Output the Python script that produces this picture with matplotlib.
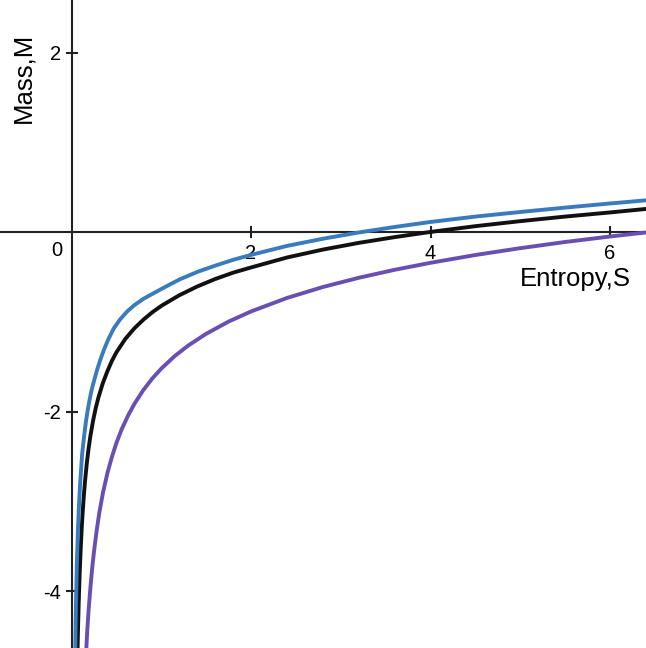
import matplotlib
matplotlib.use("Agg")
import matplotlib.pyplot as plt

plt.rcParams['font.family'] = ['Liberation Sans', 'DejaVu Sans']

# curves (entropy S, mass M)
blue_S = [0.042, 0.046, 0.052, 0.06, 0.07, 0.08, 0.095, 0.118, 0.14, 0.16,
          0.18, 0.2, 0.225, 0.25, 0.285, 0.32, 0.36, 0.41, 0.47, 0.54,
          0.62, 0.7, 0.8, 0.9, 1.0, 1.2, 1.4, 1.6, 1.8, 2.0,
          2.4, 2.8, 3.2, 3.6, 4.0, 4.5, 5.0, 5.5, 6.0, 6.4]
blue_M = [-4.63, -4.33, -4.01, -3.67, -3.35, -3.10, -2.81, -2.47, -2.27, -2.11,
          -1.98, -1.87, -1.75, -1.655, -1.53, -1.42, -1.31, -1.19, -1.07, -0.97,
          -0.88, -0.81, -0.74, -0.685, -0.63, -0.525, -0.44, -0.37, -0.305, -0.25,
          -0.15, -0.07, 0.0, 0.061, 0.117, 0.177, 0.228, 0.277, 0.323, 0.358]

black_S = [0.067, 0.072, 0.08, 0.09, 0.1, 0.11, 0.12, 0.135, 0.15, 0.17,
           0.19, 0.21, 0.24, 0.27, 0.3, 0.35, 0.4, 0.45, 0.5, 0.6,
           0.7, 0.8, 0.9, 1.0, 1.2, 1.4, 1.6, 1.8, 2.0, 2.4,
           2.8, 3.2, 3.6, 4.0, 4.5, 5.0, 5.5, 6.0, 6.4]
black_M = [-4.64, -4.42, -4.12, -3.82, -3.57, -3.36, -3.18, -2.96, -2.775, -2.573,
           -2.407, -2.268, -2.097, -1.955, -1.837, -1.675, -1.545, -1.43, -1.335, -1.185,
           -1.068, -0.972, -0.889, -0.818, -0.70, -0.602, -0.519, -0.448, -0.39, -0.279,
           -0.191, -0.116, -0.052, 0.006, 0.07, 0.126, 0.177, 0.223, 0.262]

purple_S = [0.164, 0.175, 0.19, 0.21, 0.23, 0.25, 0.28, 0.31, 0.35, 0.4,
            0.45, 0.5, 0.56, 0.63, 0.7, 0.8, 0.9, 1.0, 1.15, 1.3,
            1.5, 1.75, 2.0, 2.4, 2.8, 3.2, 3.6, 4.0, 4.5, 5.0,
            5.5, 6.0, 6.4]
purple_M = [-4.65, -4.44, -4.21, -3.96, -3.74, -3.556, -3.32, -3.12, -2.90, -2.68,
            -2.50, -2.345, -2.19, -2.04, -1.91, -1.756, -1.627, -1.517, -1.377, -1.26,
            -1.129, -0.993, -0.88, -0.73, -0.608, -0.505, -0.416, -0.338, -0.251, -0.175,
            -0.106, -0.045, 0.0]

x_ticks = [2, 4, 6]
y_ticks = [-4, -2, 2]

fig = plt.figure(figsize=(6.46, 6.48), dpi=100)
ax = fig.add_axes([0, 0, 1, 1])

ax.plot(purple_S, purple_M, color='#6a4fb3', lw=2.8)
ax.plot(black_S, black_M, color='#111111', lw=2.8)
ax.plot(blue_S, blue_M, color='#3a7bbd', lw=2.8)

ax.set_xlim(-0.797, 6.40)
ax.set_ylim(-4.63, 2.59)

for side in ['left', 'bottom']:
    ax.spines[side].set_position(('data', 0))
    ax.spines[side].set_color('#222222')
    ax.spines[side].set_linewidth(1.5)
    ax.spines[side].set_zorder(1)
ax.spines['top'].set_visible(False)
ax.spines['right'].set_visible(False)

ax.set_xticks(x_ticks)
ax.set_yticks(y_ticks)
ax.set_xticklabels([str(t) for t in x_ticks])
ax.set_yticklabels([str(t) for t in y_ticks])
ax.tick_params(axis='both', direction='inout', length=9, width=1.5,
               color='#222222', labelsize=14.5, labelcolor='#000000')
ax.tick_params(axis='x', pad=4)
ax.tick_params(axis='y', pad=3)

ax.text(-0.162, -0.2, '0', fontsize=14.5, ha='center', va='center', color='#000000')
ax.text(6.226, -0.594, 'Entropy,S', fontsize=18.5, ha='right', va='baseline', color='#000000')
ax.text(-0.541, 1.72, 'Mass,M', fontsize=18.5, rotation=90, ha='center', va='center', color='#000000')

fig.savefig('out.png', dpi=100)
